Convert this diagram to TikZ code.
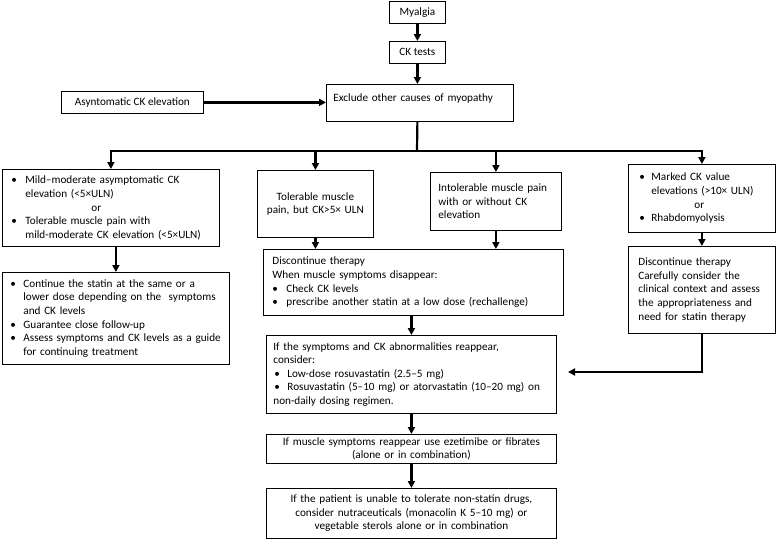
\documentclass[tikz,border=0pt]{standalone}
\usepackage{fontspec}
\setmainfont{Carlito}
\usetikzlibrary{arrows.meta,calc}
\newcommand\bul[1][14pt]{\makebox[#1][l]{•}}
\begin{document}
\begin{tikzpicture}[x=1pt,y=-1pt,
  box/.style={draw, line width=0.8pt, inner ysep=0pt, anchor=north west,
    font=\fontsize{11.2}{13.6}\selectfont},
  arr/.style={line width=2.2pt, -{Triangle[length=7pt,width=7pt]}},
  conn/.style={line width=2.2pt}]
\useasboundingbox (0,0) rectangle (777,539);

\node[box, inner xsep=0pt, minimum width=56, minimum height=22, align=center] (myal) at (389,1) {Myalgia};
\node[box, inner xsep=0pt, minimum width=56, minimum height=22, align=center] (ck) at (389,41) {CK tests};
\node[box, inner xsep=7pt, text width=173pt, align=left, text height=17pt, text depth=20pt] (excl) at (326,84) {Exclude other causes of myopathy};
\node[box, inner xsep=0pt, minimum width=142, minimum height=22, align=center] (asyn) at (61,91) {Asyntomatic CK elevation};

\node[box, inner xsep=9pt, text width=199pt, minimum height=77pt, align=left] (b1) at (2,169)
 {\bul Mild–moderate asymptomatic CK\\
  \hspace*{14pt}elevation (<5×ULN)\\
  \hspace*{80pt}or\\
  \bul Tolerable muscle pain with\\
  \hspace*{14pt}\mbox{mild-moderate CK elevation (<5×ULN)}};
\node[box, inner xsep=4pt, text width=108pt, minimum height=67pt, align=center] (b2) at (257,170)
 {Tolerable muscle\\ pain, but CK>5× ULN};
\node[box, inner xsep=8pt, text width=115pt, minimum height=58pt, align=left] (b3) at (430,172)
 {Intolerable muscle pain\\ with or without CK\\ elevation};
\node[box, inner xsep=11pt, text width=125pt, minimum height=68pt, align=left] (b4) at (628,164)
 {\bul[12pt]Marked CK value\\
  \hspace*{12pt}elevations (>10× ULN)\\
  \hspace*{55pt}or\\
  \bul[12pt]Rhabdomyolysis};

\node[box, inner xsep=8pt, text width=211pt, minimum height=92pt, align=left] (cont) at (2,272)
 {\bul[13pt]\mbox{Continue the statin at the same or a}\\
  \hspace*{13pt}\mbox{lower dose depending on the\ \ symptoms}\\
  \hspace*{13pt}and CK levels\\
  \bul[13pt]Guarantee close follow-up\\
  \bul[13pt]\mbox{Assess symptoms and CK levels as a guide}\\
  \hspace*{13pt}for continuing treatment};
\node[box, inner xsep=9pt, text width=282pt, minimum height=66pt, align=left] (mdis) at (263,249)
 {Discontinue therapy\\
  When muscle symptoms disappear:\\
  \bul Check CK levels\\
  \bul \mbox{prescribe another statin at a low dose (rechallenge)}};
\node[box, inner xsep=10pt, text width=127pt, minimum height=87pt, align=left] (rdis) at (628,246)
 {Discontinue therapy\\
  Carefully consider the\\
  \mbox{clinical context and assess}\\
  the appropriateness and\\
  need for statin therapy};

\node[box, inner xsep=7pt, text width=276pt, minimum height=78pt, align=left] (symp) at (266,335)
 {If the symptoms and CK abnormalities reappear,\\
  consider:\\
  \hspace*{1pt}\bul[13pt]Low-dose rosuvastatin (2.5–5 mg)\\
  \hspace*{1pt}\bul[13pt]\mbox{Rosuvastatin (5–10 mg) or atorvastatin (10–20 mg) on}\\
  non-daily dosing regimen.};
\node[box, inner xsep=5pt, text width=280pt, minimum height=29pt, align=center] (musc) at (266,434)
 {\mbox{If muscle symptoms reappear use ezetimibe or fibrates}\\ (alone or in combination)};
\node[box, inner xsep=5pt, text width=280pt, minimum height=50pt, align=center] (pat) at (266,488)
 {If the patient is unable to tolerate non-statin drugs,\\
  consider nutraceuticals (monacolin K 5–10 mg) or\\
  vegetable sterols alone or in combination};

\coordinate (tr) at (417,151);
\coordinate (tipR) at (568,372);

\draw[arr] (myal.south) -- (ck.north);
\draw[arr] (ck.south) -- (ck.south |- excl.north);
\draw[arr] (asyn.east) -- (asyn.east -| excl.west);
\draw[conn] (ck.south |- excl.south) -- (tr);
\draw[arr] (tr) -| (b1.north);
\draw[arr] (tr) -| (b2.north);
\draw[arr] (tr) -| (b3.north);
\draw[arr] (tr) -| (b4.north);
\draw[arr] (cont.north |- b1.south) -- (cont.north);
\draw[arr] (b2.south) -- (b2.south |- mdis.north);
\draw[arr] (b3.south) -- (b3.south |- mdis.north);
\draw[arr] (b4.south) -- (b4.south |- rdis.north);
\draw[arr] (symp.north |- mdis.south) -- (symp.north);
\draw[arr] (symp.south) -- (musc.north);
\draw[arr] (musc.south) -- (pat.north);
\draw[arr] (rdis.south) |- (tipR);
\end{tikzpicture}
\end{document}
